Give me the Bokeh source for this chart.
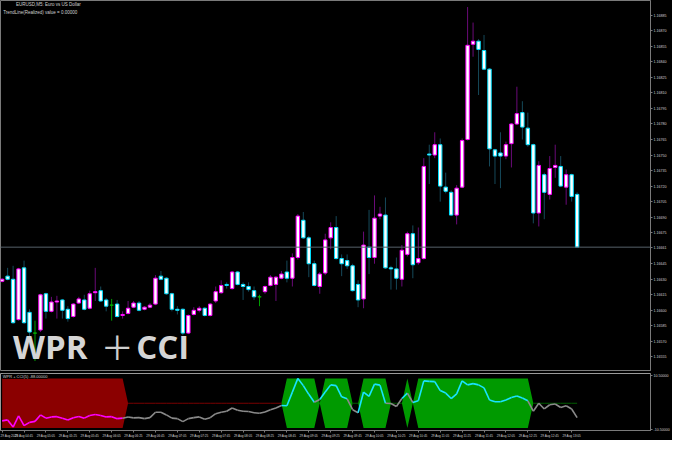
from bokeh.plotting import figure
from bokeh.layouts import column
from bokeh.models import Range1d, FixedTicker, Span, Label, ColumnDataSource, NumeralTickFormatter
from bokeh.embed import file_html
from bokeh.resources import INLINE

# ---------------- data (EURUSD M5, 29 Aug 2025, 04:25 .. 13:10) ----------------
opens = [1.16628, 1.16633, 1.16630, 1.16591, 1.16641, 1.16598, 1.16578, 1.16581, 1.16616, 1.16599,
         1.16608, 1.16610, 1.16601, 1.16594, 1.16607, 1.16610, 1.16602, 1.16617, 1.16619, 1.16610,
         1.16605, 1.16606, 1.16595, 1.16597, 1.16603, 1.16607, 1.16601, 1.16603, 1.16606, 1.16633,
         1.16631, 1.16616, 1.16601, 1.16601, 1.16578, 1.16596, 1.16600, 1.16602, 1.16595, 1.16609,
         1.16617, 1.16625, 1.16621, 1.16637, 1.16625, 1.16623, 1.16619, 1.16613, 1.16618, 1.16624,
         1.16625, 1.16631, 1.16637, 1.16631, 1.16651, 1.16687, 1.16670, 1.16645, 1.16623, 1.16636,
         1.16670, 1.16680, 1.16650, 1.16648, 1.16643, 1.16625, 1.16611, 1.16661, 1.16651, 1.16691,
         1.16692, 1.16641, 1.16640, 1.16630, 1.16654, 1.16674, 1.16646, 1.16650, 1.16751, 1.16750,
         1.16760, 1.16719, 1.16714, 1.16692, 1.16719, 1.16765, 1.16857, 1.16860, 1.16851, 1.16833,
         1.16755, 1.16752, 1.16749, 1.16761, 1.16780, 1.16791, 1.16776, 1.16760, 1.16694, 1.16731,
         1.16712, 1.16738, 1.16739, 1.16719, 1.16731, 1.16712]
highs = [1.16631, 1.16641, 1.16643, 1.16641, 1.16648, 1.16601, 1.16590, 1.16616, 1.16617, 1.16613,
         1.16614, 1.16611, 1.16604, 1.16607, 1.16613, 1.16615, 1.16619, 1.16641, 1.16623, 1.16612,
         1.16611, 1.16610, 1.16599, 1.16609, 1.16609, 1.16609, 1.16604, 1.16607, 1.16634, 1.16638,
         1.16632, 1.16617, 1.16604, 1.16602, 1.16596, 1.16603, 1.16604, 1.16603, 1.16607, 1.16623,
         1.16629, 1.16627, 1.16638, 1.16638, 1.16627, 1.16627, 1.16623, 1.16615, 1.16624, 1.16634,
         1.16633, 1.16638, 1.16648, 1.16655, 1.16693, 1.16695, 1.16672, 1.16648, 1.16637, 1.16674,
         1.16685, 1.16691, 1.16654, 1.16654, 1.16645, 1.16629, 1.16676, 1.16697, 1.16711, 1.16700,
         1.16709, 1.16643, 1.16651, 1.16663, 1.16676, 1.16682, 1.16680, 1.16747, 1.16760, 1.16772,
         1.16766, 1.16733, 1.16716, 1.16721, 1.16766, 1.16893, 1.16878, 1.16862, 1.16866, 1.16834,
         1.16756, 1.16772, 1.16763, 1.16781, 1.16816, 1.16802, 1.16791, 1.16761, 1.16744, 1.16733,
         1.16749, 1.16760, 1.16749, 1.16736, 1.16732, 1.16714]
lows = [1.16627, 1.16629, 1.16587, 1.16590, 1.16587, 1.16573, 1.16551, 1.16579, 1.16592, 1.16598,
        1.16592, 1.16592, 1.16589, 1.16593, 1.16606, 1.16600, 1.16601, 1.16609, 1.16608, 1.16599,
        1.16590, 1.16593, 1.16592, 1.16596, 1.16602, 1.16599, 1.16600, 1.16602, 1.16605, 1.16629,
        1.16615, 1.16599, 1.16596, 1.16576, 1.16577, 1.16595, 1.16598, 1.16594, 1.16594, 1.16607,
        1.16616, 1.16621, 1.16620, 1.16624, 1.16610, 1.16618, 1.16610, 1.16604, 1.16616, 1.16623,
        1.16609, 1.16630, 1.16627, 1.16623, 1.16649, 1.16669, 1.16632, 1.16623, 1.16616, 1.16634,
        1.16659, 1.16649, 1.16633, 1.16640, 1.16618, 1.16603, 1.16602, 1.16635, 1.16645, 1.16688,
        1.16640, 1.16620, 1.16620, 1.16623, 1.16652, 1.16631, 1.16644, 1.16649, 1.16722, 1.16747,
        1.16705, 1.16713, 1.16691, 1.16683, 1.16718, 1.16764, 1.16845, 1.16808, 1.16832, 1.16739,
        1.16722, 1.16718, 1.16746, 1.16738, 1.16779, 1.16765, 1.16758, 1.16684, 1.16681, 1.16688,
        1.16707, 1.16728, 1.16719, 1.16702, 1.16705, 1.16661]
closes = [1.16630, 1.16630, 1.16588, 1.16640, 1.16588, 1.16579, 1.16578, 1.16615, 1.16599, 1.16608,
          1.16609, 1.16600, 1.16592, 1.16606, 1.16611, 1.16601, 1.16616, 1.16618, 1.16609, 1.16604,
          1.16605, 1.16594, 1.16596, 1.16602, 1.16607, 1.16600, 1.16603, 1.16605, 1.16631, 1.16630,
          1.16616, 1.16601, 1.16600, 1.16578, 1.16595, 1.16600, 1.16602, 1.16595, 1.16606, 1.16618,
          1.16624, 1.16624, 1.16637, 1.16625, 1.16623, 1.16620, 1.16613, 1.16613, 1.16623, 1.16632,
          1.16632, 1.16635, 1.16631, 1.16651, 1.16691, 1.16670, 1.16645, 1.16624, 1.16635, 1.16668,
          1.16680, 1.16650, 1.16645, 1.16643, 1.16619, 1.16610, 1.16663, 1.16651, 1.16689, 1.16693,
          1.16641, 1.16640, 1.16631, 1.16658, 1.16674, 1.16644, 1.16650, 1.16739, 1.16750, 1.16760,
          1.16720, 1.16715, 1.16692, 1.16718, 1.16764, 1.16856, 1.16860, 1.16852, 1.16833, 1.16756,
          1.16749, 1.16749, 1.16760, 1.16780, 1.16790, 1.16777, 1.16760, 1.16694, 1.16740, 1.16714,
          1.16737, 1.16740, 1.16720, 1.16731, 1.16710, 1.16661]

# WPR + CCI combined signal (indicator window) and zone state (-1 sell, 1 buy, 0 none)
signal = [-71, -67, -96, -51, -90, -77, -73, -47, -60, -55,
          -54, -60, -67, -58, -53, -60, -49, -45, -49, -55,
          -54, -62, -60, -55, -59, -58, -62, -58, -36, -36,
          -47, -60, -62, -74, -62, -58, -55, -64, -58, -42,
          -36, -32, -19, -28, -32, -33, -38, -40, -35, -26,
          -19, -9, -10, 45, 100, 71, 36, 4, 15, 45,
          74, 71, 26, 18, -26, -38, 45, 28, 77, 73,
          0, -1, -13, 19, 41, 3, 10, 90, 88, 87,
          51, 41, 19, 38, 90, 74, 79, 74, 62, 13,
          6, 6, 13, 23, 29, 21, 10, -32, 0, -23,
          -6, -3, -17, -10, -23, -58]
state = [-1, -1, -1, -1, -1, -1, -1, -1, -1, -1,
         -1, -1, -1, -1, -1, -1, -1, -1, -1, -1,
         -1, -1, -1, 0, 0, 0, 0, 0, 0, 0,
         0, 0, 0, 0, 0, 0, 0, 0, 0, 0,
         0, 0, 0, 0, 0, 0, 0, 0, 0, 0,
         0, 0, 1, 1, 1, 1, 1, 1, 0, 1,
         1, 1, 1, 1, 0, 0, 1, 1, 1, 1,
         1, 0, 0, 0, 1, 0, 1, 1, 1, 1,
         1, 1, 1, 1, 1, 1, 1, 1, 1, 1,
         1, 1, 1, 1, 1, 1, 1, 0, 0, 0,
         0, 0, 0, 0, 0, 0]

time_tick_bars = [0, 4, 8, 12, 16, 20, 24, 28, 32, 36, 40, 44, 48, 52, 56, 60, 64, 68, 72, 76, 80, 84, 88, 92, 96, 100, 104]
time_tick_labels = ["29 Aug 2025", "29 Aug 04:45", "29 Aug 05:05", "29 Aug 05:25", "29 Aug 05:45",
                    "29 Aug 06:05", "29 Aug 06:25", "29 Aug 06:45", "29 Aug 07:05", "29 Aug 07:25",
                    "29 Aug 07:45", "29 Aug 08:05", "29 Aug 08:25", "29 Aug 08:45", "29 Aug 09:05",
                    "29 Aug 09:25", "29 Aug 09:45", "29 Aug 10:05", "29 Aug 10:25", "29 Aug 10:45",
                    "29 Aug 11:05", "29 Aug 11:25", "29 Aug 11:45", "29 Aug 12:05", "29 Aug 12:25",
                    "29 Aug 12:45", "29 Aug 13:05"]
current_price = 1.16661
price_ticks = [1.16885, 1.16870, 1.16855, 1.16840, 1.16825, 1.16810, 1.16795, 1.16780, 1.16765,
               1.16750, 1.16735, 1.16720, 1.16705, 1.16690, 1.16675, 1.16661, 1.16645, 1.16630,
               1.16615, 1.16600, 1.16585, 1.16570, 1.16555]
ind_ticks = [110, -104]
ind_tick_labels = ["10.50000", "-10.50000"]

# ---------------- styling ----------------
BG = "#000000"
GRID = "#7a7a7a"
TXT = "#d2d2d2"
FONT = "Liberation Sans"
FRAME_W = 650

n = len(opens)
bars = list(range(n))

xr = Range1d(-0.3, 118.4)

main = figure(frame_width=FRAME_W, frame_height=370, x_range=xr,
              y_range=Range1d(1.1654185, 1.168993),
              output_backend="svg", toolbar_location=None,
              x_axis_location=None, y_axis_location="right",
              background_fill_color=BG, border_fill_color=BG,
              min_border_left=0, min_border_top=0, min_border_bottom=1, min_border_right=15,
              outline_line_color=GRID)
main.grid.visible = False
ya = main.yaxis[0]
ya.ticker = FixedTicker(ticks=price_ticks)
ya.formatter = NumeralTickFormatter(format="0.00000")
ya.axis_line_color = GRID
ya.major_tick_line_color = GRID
ya.major_tick_out = 2
ya.major_tick_in = 0
ya.minor_tick_line_color = None
ya.major_label_standoff = 1
ya.major_label_text_font_size = "3.6px"
ya.major_label_text_color = TXT
ya.major_label_text_font = FONT

# candles
dirn = [1 if c > o else (-1 if c < o else 0) for o, c in zip(opens, closes)]
edge = ["#ff00ff" if d > 0 else ("#00e0ff" if d < 0 else "#00b000") for d in dirn]
wick = ["#6a0a78" if d > 0 else ("#15495a" if d < 0 else "#00a000") for d in dirn]
src = ColumnDataSource(dict(
    x=bars, o=opens, h=highs, l=lows, c=closes,
    top=[max(o, c) for o, c in zip(opens, closes)],
    bottom=[min(o, c) for o, c in zip(opens, closes)],
    edge=edge, wick=wick))

main.add_layout(Span(location=current_price, dimension="width", line_color="#56606a", line_width=1))
main.segment(x0="x", y0="l", x1="x", y1="h", line_color="wick", line_width=1, source=src)
main.vbar(x="x", width=0.62, top="top", bottom="bottom", fill_color="white",
          line_color="edge", line_width=1, source=src)

main.add_layout(Label(x=2.54, y=1.168975, text="EURUSD,M5:  Euro vs US Dollar", text_align="left",
                      text_baseline="top", text_font_size="4.5px", text_font=FONT, text_color=TXT))
main.add_layout(Label(x=0.2, y=1.168900, text="TrendLine(Realized) value = 0.00000", text_align="left",
                      text_baseline="top", text_font_size="4.5px", text_font=FONT, text_color=TXT))
# big title "WPR＋CCI"
TITLE_Y = 1.165655
main.add_layout(Label(x=2.0, y=TITLE_Y, text="WPR", text_align="left",
                      text_baseline="middle", text_font_size="33px", text_font="Open Sans",
                      text_font_style="bold", text_color="#d5d5d5"))
main.add_layout(Label(x=18.0, y=TITLE_Y, text="＋", text_align="left",
                      text_baseline="middle", text_font_size="33px", text_font="Noto Sans CJK JP",
                      text_color="#cfcfcf"))
main.add_layout(Label(x=24.5, y=TITLE_Y, text="CCI", text_align="left",
                      text_baseline="middle", text_font_size="33px", text_font="Open Sans",
                      text_font_style="bold", text_color="#d5d5d5"))

# ---------------- indicator window ----------------
low = figure(frame_width=FRAME_W, frame_height=57, x_range=xr, y_range=Range1d(-109.7, 119.8),
             output_backend="svg", toolbar_location=None, y_axis_location="right",
             background_fill_color=BG, border_fill_color=BG,
             min_border_left=0, min_border_top=2, min_border_bottom=10, min_border_right=15,
             outline_line_color="#9a9a9a")
low.grid.visible = False

red_hi = [100 if s == -1 else 0 for s in state]
red_lo = [-100 if s == -1 else 0 for s in state]
grn_hi = [100 if s == 1 else 0 for s in state]
grn_lo = [-100 if s == 1 else 0 for s in state]
low.varea(x=bars, y1=red_hi, y2=red_lo, fill_color="#8b0000")
low.varea(x=bars, y1=grn_hi, y2=grn_lo, fill_color="#009a00")

# midline where no zone is active, coloured after the last zone
mx0, mx1, mcol = [], [], []
last = 0
for k in range(n - 1):
    if state[k] != 0:
        last = state[k]
    if state[k] == 0 and state[k + 1] == 0:
        mx0.append(k)
        mx1.append(k + 1)
        mcol.append("#7a0000" if last == -1 else "#005c00")
low.segment(x0=mx0, y0=[0] * len(mx0), x1=mx1, y1=[0] * len(mx1), line_color=mcol, line_width=1)

seg_col = ["#ff00ff" if s == -1 else ("#19e3ff" if s == 1 else "#8a8a8a") for s in state[1:]]
low.segment(x0=bars[:-1], y0=signal[:-1], x1=bars[1:], y1=signal[1:], line_color=seg_col, line_width=1.6)

low.add_layout(Label(x=0.1, y=119.0, text="WPR + CCI(5) -88.00000", text_align="left",
                     text_baseline="top", text_font_size="4px", text_font=FONT, text_color=TXT,
                     background_fill_color=BG))

la = low.yaxis[0]
la.ticker = FixedTicker(ticks=ind_ticks)
la.major_label_overrides = {t: s for t, s in zip(ind_ticks, ind_tick_labels)}
la.axis_line_color = GRID
la.major_tick_line_color = GRID
la.major_tick_out = 2
la.major_tick_in = 0
la.minor_tick_line_color = None
la.major_label_standoff = 1
la.major_label_text_font_size = "3.6px"
la.major_label_text_color = TXT
la.major_label_text_font = FONT

xa = low.xaxis[0]
xa.ticker = FixedTicker(ticks=time_tick_bars)
xa.major_label_overrides = {t: s for t, s in zip(time_tick_bars, time_tick_labels)}
xa.axis_line_color = GRID
xa.major_tick_line_color = GRID
xa.major_tick_out = 2
xa.major_tick_in = 0
xa.minor_tick_line_color = None
xa.major_label_standoff = 2
xa.major_label_text_font_size = "3.1px"
xa.major_label_text_color = TXT
xa.major_label_text_font = FONT
xa.major_label_text_align = "left"

layout = column(main, low, spacing=0, styles={"background-color": "black"})
open("out.html", "w").write(file_html(layout, INLINE))
